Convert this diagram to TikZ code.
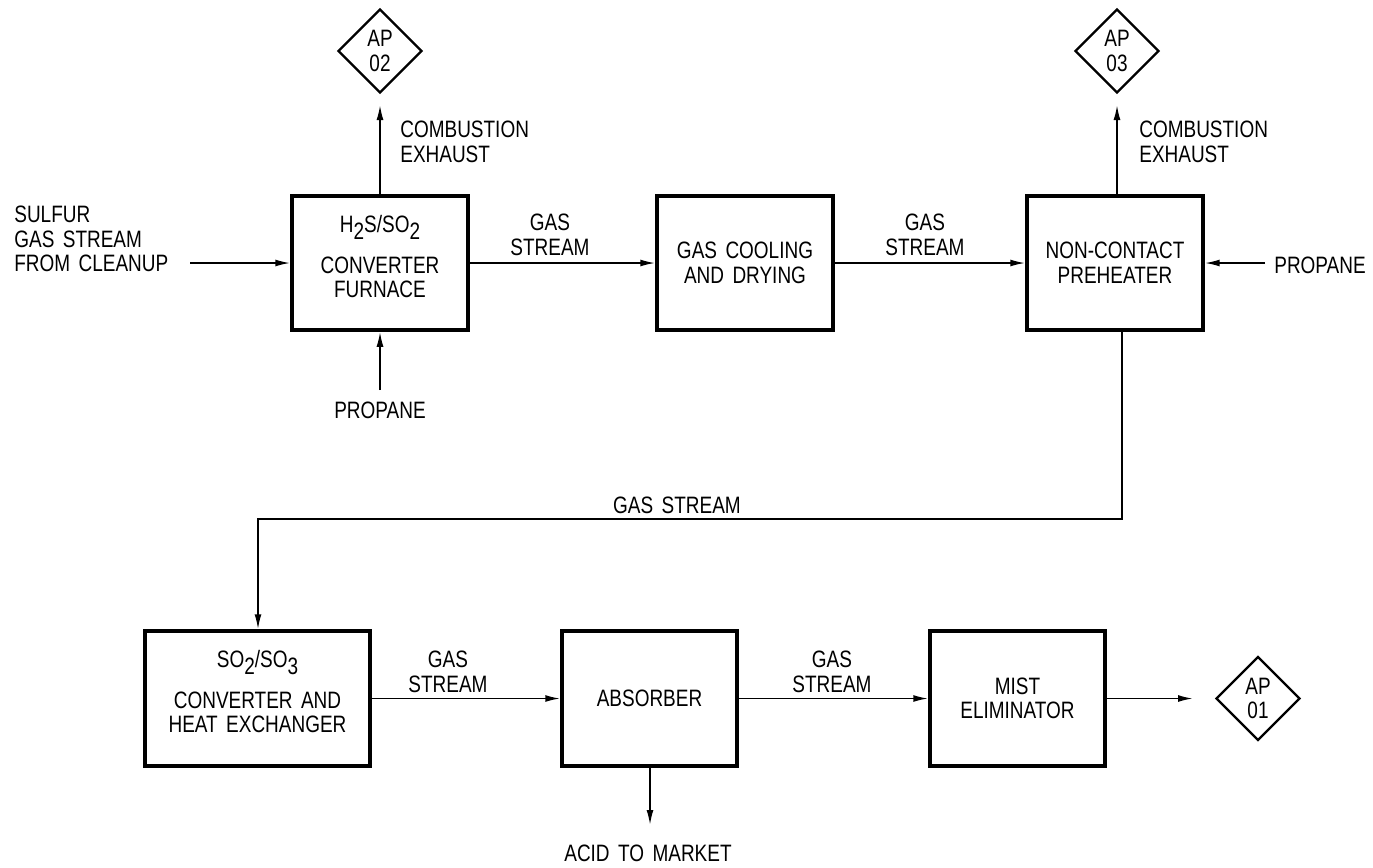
\documentclass[tikz,border=0pt]{standalone}
\usepackage{fontspec}
\setmainfont{Liberation Sans}[FakeStretch=0.8,WordSpace=1.6]
\usetikzlibrary{shapes.geometric,arrows.meta}
\newcommand{\lowsub}[1]{\raisebox{-0.55ex}{#1}}
\begin{document}
\begin{tikzpicture}[x=0.02cm,y=-0.02cm,
  font=\fontsize{13.5}{14}\selectfont,
  proc/.style={draw,line width=2pt,minimum width=3.52cm,minimum height=2.68cm,align=center,inner sep=0pt},
  wideproc/.style={proc,minimum width=4.5cm,minimum height=2.7cm},
  ap/.style={draw,diamond,line width=1.3pt,minimum width=1.68cm,minimum height=1.68cm,align=center,inner sep=0pt},
  flow/.style={line width=1pt,-{Latex[length=3mm,width=1.4mm]}},
  lbl/.style={align=center,inner sep=0pt},
]
\useasboundingbox[fill=white] (0,0) rectangle (1373,867);

% process boxes
\node[proc] (furn) at (380,263) {};
\node[lbl] (furnt) at (380,257) {H\lowsub{2}S/SO\lowsub{2}\\[9pt]CONVERTER\\FURNACE};
\node[proc] (cool) at (745,263) {GAS COOLING\\AND DRYING};
\node[proc] (pre) at (1115,263) {NON-CONTACT\\PREHEATER};
\node[wideproc] (conv) at (257.5,698.5) {};
\node[lbl] (convt) at (257.5,692) {SO\lowsub{2}/SO\lowsub{3}\\[9pt]CONVERTER AND\\HEAT EXCHANGER};
\node[proc,minimum width=3.5cm,minimum height=2.7cm] (abs) at (649.5,698.5) {ABSORBER};
\node[proc,minimum width=3.5cm,minimum height=2.7cm] (mist) at (1017.5,698.5) {MIST\\ELIMINATOR};

% emission points
\node[ap] (ap2) at (380,51) {AP\\02};
\node[ap] (ap3) at (1117,51) {AP\\03};
\node[ap] (ap1) at (1258,698.5) {AP\\01};

% free ends
\coordinate (ex2) at (380,105);
\coordinate (ex3) at (1117,105);
\coordinate (sulf) at (190,263);
\coordinate (prop1) at (380,390);
\coordinate (prop2) at (1265,263);
\coordinate (b1) at (1122,519);
\coordinate (b2) at (258,519);
\coordinate (acid) at (650,825);
\coordinate (out1) at (1193,698.5);

% connectors
\draw[flow] (furn.north) -- (ex2);
\draw[flow] (pre.north -| ex3) -- (ex3);
\draw[flow] (sulf) -- (furn.west);
\draw[flow] (prop1) -- (furn.south);
\draw[flow] (prop2) -- (pre.east);
\draw[flow] (furn.east) -- (cool.west);
\draw[flow] (cool.east) -- (pre.west);
\draw[flow] (b1 |- pre.south) -- (b1) -- (b2) -- (b2 |- conv.north);
\draw[flow] (conv.east) -- (abs.west);
\draw[flow] (abs.east) -- (mist.west);
\draw[flow] (mist.east) -- (out1);
\draw[flow] (abs.south -| acid) -- (acid);

% labels
\node[lbl,anchor=west,align=left] (l1) at (400,142) {COMBUSTION\\EXHAUST};
\node[lbl,anchor=west,align=left] (l2) at (1139,142) {COMBUSTION\\EXHAUST};
\node[lbl,anchor=west,align=left] (l3) at (14,239) {SULFUR\\GAS STREAM\\FROM CLEANUP};
\node[lbl] (l4) at (380,410) {PROPANE};
\node[lbl,anchor=west] (l5) at (1274,265) {PROPANE};
\node[lbl] (l6) at (550,235) {GAS\\STREAM};
\node[lbl] (l7) at (925,235) {GAS\\STREAM};
\node[lbl] (l8) at (677,505) {GAS STREAM};
\node[lbl] (l9) at (448,672) {GAS\\STREAM};
\node[lbl] (l10) at (832,672) {GAS\\STREAM};
\node[lbl] (l11) at (648,853) {ACID TO MARKET};
\end{tikzpicture}
\end{document}
